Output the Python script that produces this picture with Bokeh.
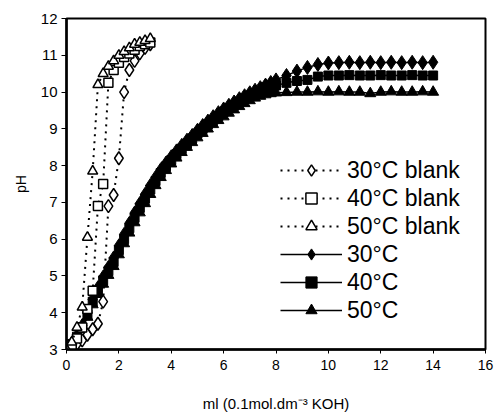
from bokeh.plotting import figure
from bokeh.models import Legend, LegendItem, FixedTicker, Range1d
from bokeh.embed import file_html
from bokeh.resources import INLINE

# ---- data ----
x_blank = [0.0, 0.2, 0.4, 0.6, 0.8, 1.0, 1.2, 1.4, 1.6, 1.8, 2.0, 2.2, 2.4, 2.6, 2.8, 3.0, 3.2]
ph_blank30 = [3.00, 3.05, 3.15, 3.25, 3.40, 3.55, 3.70, 4.30, 6.90, 7.20, 8.20, 10.00, 10.60, 10.85, 11.05, 11.20, 11.30]
ph_blank40 = [3.00, 3.10, 3.30, 3.60, 4.10, 4.60, 6.90, 7.50, 10.25, 10.60, 10.80, 10.95, 11.05, 11.15, 11.25, 11.30, 11.35]
ph_blank50 = [3.00, 3.20, 3.60, 4.15, 6.05, 7.85, 10.20, 10.50, 10.70, 10.85, 11.00, 11.10, 11.20, 11.30, 11.35, 11.40, 11.45]

x_main = [0.0, 0.2, 0.4, 0.6, 0.8, 1.0, 1.2, 1.4, 1.6, 1.8,
          2.0, 2.2, 2.4, 2.6, 2.8, 3.0, 3.2, 3.4, 3.6, 3.8,
          4.0, 4.2, 4.4, 4.6, 4.8, 5.0, 5.2, 5.4, 5.6, 5.8,
          6.0, 6.2, 6.4, 6.6, 6.8, 7.0, 7.2, 7.4, 7.6, 7.8,
          8.0, 8.4, 8.8, 9.2, 9.6, 10.0, 10.4, 10.8, 11.2, 11.6,
          12.0, 12.4, 12.8, 13.2, 13.6, 14.0]
ph_30 = [3.00, 3.17, 3.38, 3.65, 4.00, 4.36, 4.68, 4.97, 5.23, 5.49,
         5.82, 6.13, 6.43, 6.71, 6.97, 7.22, 7.46, 7.68, 7.89, 8.07,
         8.24, 8.40, 8.55, 8.69, 8.82, 8.96, 9.09, 9.21, 9.33, 9.44,
         9.54, 9.64, 9.73, 9.82, 9.90, 9.98, 10.05, 10.12, 10.19, 10.26,
         10.33, 10.45, 10.57, 10.67, 10.75, 10.79, 10.80, 10.81, 10.80, 10.81,
         10.80, 10.81, 10.80, 10.81, 10.80, 10.81]
ph_40 = [3.00, 3.15, 3.35, 3.60, 3.95, 4.30, 4.60, 4.88, 5.13, 5.38,
         5.70, 6.00, 6.30, 6.58, 6.85, 7.10, 7.35, 7.58, 7.80, 7.98,
         8.15, 8.31, 8.46, 8.60, 8.74, 8.87, 9.00, 9.12, 9.24, 9.35,
         9.46, 9.56, 9.65, 9.74, 9.82, 9.90, 9.97, 10.03, 10.08, 10.13,
         10.18, 10.25, 10.30, 10.33, 10.42, 10.45, 10.45, 10.46, 10.45, 10.45,
         10.46, 10.45, 10.45, 10.46, 10.45, 10.45]
ph_50 = [3.00, 3.13, 3.32, 3.55, 3.88, 4.22, 4.50, 4.78, 5.02, 5.26,
         5.58, 5.88, 6.17, 6.45, 6.72, 6.97, 7.22, 7.46, 7.68, 7.87,
         8.05, 8.21, 8.36, 8.50, 8.63, 8.76, 8.88, 9.00, 9.12, 9.23,
         9.33, 9.43, 9.52, 9.61, 9.69, 9.77, 9.84, 9.89, 9.93, 9.96,
         9.98, 9.99, 10.00, 10.00, 10.01, 10.00, 10.01, 10.00, 10.00, 9.96,
         10.00, 10.01, 10.00, 10.00, 10.01, 10.00]

x_ticks = [0, 2, 4, 6, 8, 10, 12, 14, 16]
y_ticks = [3, 4, 5, 6, 7, 8, 9, 10, 11, 12]

FONT = "Liberation Sans"

p = figure(width=495, height=414, output_backend="svg", toolbar_location=None,
           x_range=Range1d(0, 16), y_range=Range1d(3, 12),
           min_border_left=66, min_border_right=10, min_border_top=18, min_border_bottom=63,
           background_fill_color="white", border_fill_color="white")
p.grid.visible = False
p.outline_line_color = "black"
p.outline_line_width = 2

for ax in (p.xaxis[0], p.yaxis[0]):
    ax.axis_line_color = "black"
    ax.axis_line_width = 2.5
    ax.major_tick_line_color = "black"
    ax.major_tick_line_width = 1
    ax.major_tick_in = 0
    ax.minor_tick_line_color = None
    ax.major_label_text_font = FONT
    ax.major_label_text_color = "black"
    ax.axis_label_text_font = FONT
    ax.axis_label_text_font_style = "normal"
    ax.axis_label_text_color = "black"

p.xaxis.ticker = FixedTicker(ticks=x_ticks)
p.yaxis.ticker = FixedTicker(ticks=y_ticks)
p.xaxis.major_tick_out = 4
p.yaxis.major_tick_out = 5
p.xaxis.major_label_text_font_size = "14px"
p.yaxis.major_label_text_font_size = "15px"
p.xaxis.major_label_standoff = 6
p.yaxis.major_label_standoff = 4
p.xaxis.axis_label = "ml (0.1mol.dm\u207b\u00b3 KOH)"
p.yaxis.axis_label = "pH"
p.xaxis.axis_label_text_font_size = "15px"
p.yaxis.axis_label_text_font_size = "14px"
p.xaxis.axis_label_standoff = 22
p.yaxis.axis_label_standoff = 9

# main titration curves (filled markers, solid lines)
l30 = p.line(x_main, ph_30, line_color="black", line_width=1.5)
s30 = p.scatter(x_main, ph_30, marker="diamond", size=14, fill_color="black", line_color="black")
l40 = p.line(x_main, ph_40, line_color="black", line_width=1.5)
s40 = p.scatter(x_main, ph_40, marker="square", size=9, fill_color="black", line_color="black")
l50 = p.line(x_main, ph_50, line_color="black", line_width=1.5)
s50 = p.scatter(x_main, ph_50, marker="triangle", size=11, fill_color="black", line_color="black")

# blank curves (open markers, dotted lines)
lb30 = p.line(x_blank, ph_blank30, line_color="black", line_width=2, line_dash="2 5")
sb30 = p.scatter(x_blank, ph_blank30, marker="diamond", size=13, fill_color="white", line_color="black", line_width=1.5)
lb40 = p.line(x_blank, ph_blank40, line_color="black", line_width=2, line_dash="2 5")
sb40 = p.scatter(x_blank, ph_blank40, marker="square", size=9, fill_color="white", line_color="black", line_width=1.5)
lb50 = p.line(x_blank, ph_blank50, line_color="black", line_width=2, line_dash="2 5")
sb50 = p.scatter(x_blank, ph_blank50, marker="triangle", size=10, fill_color="white", line_color="black", line_width=1.5)

legend = Legend(items=[
    LegendItem(label="30°C blank", renderers=[lb30, sb30]),
    LegendItem(label="40°C blank", renderers=[lb40, sb40]),
    LegendItem(label="50°C blank", renderers=[lb50, sb50]),
    LegendItem(label="30°C", renderers=[l30, s30]),
    LegendItem(label="40°C", renderers=[l40, s40]),
    LegendItem(label="50°C", renderers=[l50, s50]),
], location=(214, 25))
legend.border_line_color = None
legend.background_fill_alpha = 0
legend.padding = 0
legend.margin = 0
legend.spacing = 0
legend.glyph_width = 62
legend.glyph_height = 28
legend.label_height = 28
legend.label_standoff = 5
legend.label_text_font = FONT
legend.label_text_font_size = "23px"
legend.label_text_color = "black"
p.add_layout(legend, "center")

open("out.html", "w").write(file_html(p, INLINE))
